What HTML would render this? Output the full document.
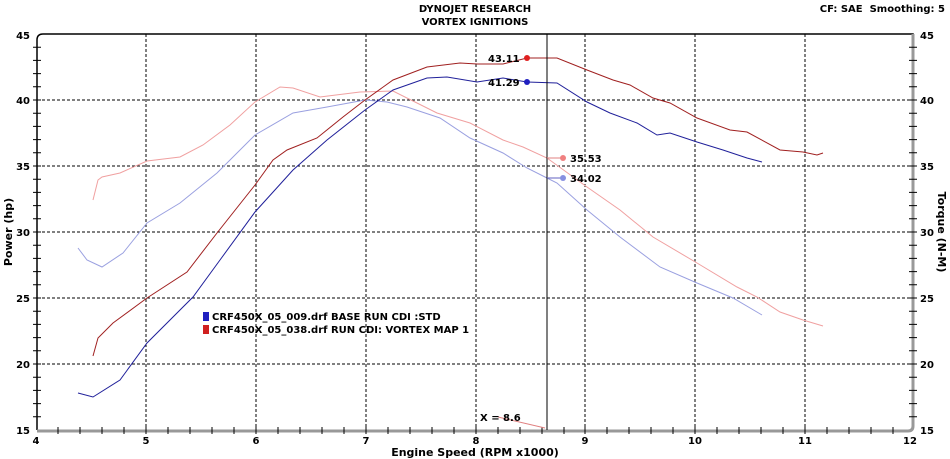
<!DOCTYPE html><html><head><style>body{margin:0;background:#fff}svg{display:block;font-family:"DejaVu Sans","Liberation Sans",sans-serif;font-weight:bold}</style></head><body>
<svg width="950" height="459" viewBox="0 0 950 459">
<text x="475" y="12" font-size="10" text-anchor="middle">DYNOJET RESEARCH</text>
<text x="475" y="25" font-size="10" text-anchor="middle">VORTEX IGNITIONS</text>
<text x="945" y="12" font-size="10" text-anchor="end" xml:space="preserve">CF: SAE  Smoothing: 5</text>
<g stroke="#000" stroke-dasharray="3,2" stroke-width="1">
<line x1="146" y1="34" x2="146" y2="430"/><line x1="256" y1="34" x2="256" y2="430"/><line x1="366" y1="34" x2="366" y2="430"/><line x1="476" y1="34" x2="476" y2="430"/><line x1="585" y1="34" x2="585" y2="430"/><line x1="695" y1="34" x2="695" y2="430"/><line x1="805" y1="34" x2="805" y2="430"/>
<line x1="37" y1="100" x2="913" y2="100"/><line x1="37" y1="166" x2="913" y2="166"/><line x1="37" y1="232" x2="913" y2="232"/><line x1="37" y1="298" x2="913" y2="298"/><line x1="37" y1="364" x2="913" y2="364"/>
</g>
<path d="M37 430V40q0-6 6-6H913V424" fill="none" stroke="#000" stroke-width="1.5"/>
<path d="M37 431H908q5 0 5-5V34" fill="none" stroke="#999" stroke-width="3"/>
<g stroke="#000" stroke-width="1">
<path id="lt" d="M33 47.2h8M33 60.4h8M33 73.6h8M33 86.8h8M33 100h8M33 113.2h8M33 126.4h8M33 139.6h8M33 152.8h8M33 166h8M33 179.2h8M33 192.4h8M33 205.6h8M33 218.8h8M33 232h8M33 245.2h8M33 258.4h8M33 271.6h8M33 284.8h8M33 298h8M33 311.2h8M33 324.4h8M33 337.6h8M33 350.8h8M33 364h8M33 377.2h8M33 390.4h8M33 403.6h8M33 416.8h8"/>
<use href="#lt" x="876"/>
<path d="M58 427v7M80 427v7M102 427v7M124 427v7M146 427v7M168 427v7M190 427v7M212 427v7M234 427v7M256 427v7M278 427v7M300 427v7M322 427v7M344 427v7M366 427v7M388 427v7M410 427v7M432 427v7M454 427v7M476 427v7M498 427v7M520 427v7M542 427v7M564 427v7M585 427v7M607 427v7M629 427v7M651 427v7M673 427v7M695 427v7M717 427v7M739 427v7M761 427v7M783 427v7M805 427v7M827 427v7M849 427v7M871 427v7M893 427v7"/>
</g>
<g font-size="10" text-anchor="end">
<text x="30" y="39">45</text><text x="30" y="104">40</text><text x="30" y="170">35</text><text x="30" y="236">30</text><text x="30" y="302">25</text><text x="30" y="368">20</text><text x="30" y="434">15</text></g>
<g font-size="10">
<text x="920" y="39">45</text><text x="920" y="104">40</text><text x="920" y="170">35</text><text x="920" y="236">30</text><text x="920" y="302">25</text><text x="920" y="368">20</text><text x="920" y="434">15</text></g>
<g font-size="10" text-anchor="middle">
<text x="36" y="444">4</text><text x="146" y="444">5</text><text x="256" y="444">6</text><text x="366" y="444">7</text><text x="476" y="444">8</text><text x="585" y="444">9</text><text x="695" y="444">10</text><text x="805" y="444">11</text><text x="910" y="444">12</text>
<text x="475" y="456" font-size="11">Engine Speed (RPM x1000)</text></g>
<text transform="translate(12,232) rotate(-90)" font-size="11" text-anchor="middle">Power (hp)</text>
<text transform="translate(938,232) rotate(90)" font-size="11" text-anchor="middle">Torque (N-M)</text>
<g fill="none" stroke-width="1">
<polyline stroke="#f0a0a0" points="93,200 98,180 102,177 120,173 147,161 180,157 203,145 230,125 255,102 280,87 293,88 320,97 360,92 393,91 437,113 470,123 503,140 523,147 547,158 587,187 620,210 653,237 697,263 737,287 757,297 780,312 803,320 823,326"/>
<polyline stroke="#9aa0e0" points="78,248 87,260 102,267 123,253 147,223 180,203 217,173 255,135 293,113 327,107 365,100 387,102 407,107 440,118 470,138 503,153 527,168 547,178 557,183 587,210 620,237 660,267 697,283 733,298 762,315"/>
<polyline stroke="#a02020" points="93,356 98,338 113,323 147,298 187,272 217,233 255,185 273,160 287,150 317,138 343,117 365,100 393,80 427,67 460,63 477,64 503,64 527,58 557,58 587,70 613,80 630,85 653,98 670,103 697,118 730,130 747,132 780,150 803,152 817,155 823,153"/>
<polyline stroke="#20209a" points="78,393 93,397 120,380 147,343 193,297 220,260 255,212 293,170 327,140 365,110 393,90 427,78 447,77 477,82 503,78 527,82 557,83 587,102 610,113 637,123 657,135 670,133 697,142 723,150 747,158 762,162"/>
<line x1="498" y1="417" x2="545" y2="428" stroke="#e08080"/>
</g>
<line x1="547" y1="34" x2="547" y2="430" stroke="#000"/>
<line x1="547" y1="158" x2="563" y2="158" stroke="#e08080"/><line x1="547" y1="178" x2="563" y2="178" stroke="#6060c0"/>
<circle cx="527" cy="58" r="3" fill="#e02020"/><circle cx="527" cy="82" r="3" fill="#2020c0"/>
<circle cx="563" cy="158" r="3" fill="#f08080"/><circle cx="563" cy="178" r="3" fill="#8890e0"/>
<g font-size="10"><text x="488" y="62">43.11</text><text x="488" y="86">41.29</text><text x="570" y="162">35.53</text><text x="570" y="182">34.02</text><text x="480" y="421">X = 8.6</text>
<rect x="203" y="312" width="6" height="9" fill="#2020c0"/><rect x="203" y="325" width="6" height="9" fill="#d02020"/>
<text x="212" y="320">CRF450X_05_009.drf BASE RUN CDI :STD</text><text x="212" y="333">CRF450X_05_038.drf RUN CDI: VORTEX MAP 1</text></g>
</svg></body></html>
